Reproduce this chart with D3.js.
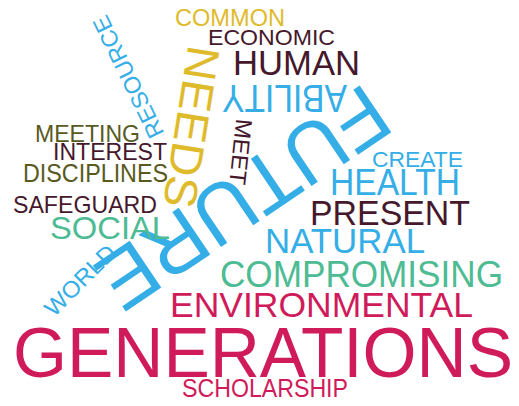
<!DOCTYPE html>
<html>
<head>
<meta charset="utf-8">
<script src="https://cdn.jsdelivr.net/npm/d3@7"></script>
<style>
  body { margin: 0; background: #fff; }
  svg text { font-family: "Liberation Sans", Arial, sans-serif; }
</style>
</head>
<body>
<div id="chart"></div>
<script>
// words and their weight in the cloud
const words = ["GENERATIONS", "FUTURE", "NEEDS", "ABILITY", "ENVIRONMENTAL", "COMPROMISING",
  "HEALTH", "HUMAN", "PRESENT", "NATURAL", "SOCIAL", "SCHOLARSHIP", "DISCIPLINES",
  "MEETING", "SAFEGUARD", "INTEREST", "RESOURCE", "COMMON", "MEET", "WORLD",
  "ECONOMIC", "CREATE"];
const weights = [8.8, 10.25, 5.75, 4.75, 4.4, 4.6, 4.6, 4.4, 4.4, 4.4, 4, 3.25, 3.25,
  3.1, 3.1, 3, 2.9, 2.9, 2.9, 2.9, 2.7, 2.7];
const groups = ["pink", "blue", "gold", "blue", "pink", "green", "blue", "maroon",
  "maroon", "blue", "green", "pink", "olive", "olive", "maroon", "maroon", "blue",
  "gold", "maroon", "blue", "maroon", "blue"];

// placement of each word (centre x, centre y, rotation, drawn length)
const layout = [
  [263, 351.5, 0, 500], [244, 199, 146, 332], [192, 127, 99, 163], [284.5, 99, 180, 125],
  [321.5, 304.5, 0, 303], [361.5, 273.5, 0, 283], [395, 181.5, 0, 130], [296.5, 62.5, 0, 127],
  [390, 212.5, 0, 160], [345, 240.5, 0, 160], [110, 227.5, 0, 120], [265, 387.5, 0, 166],
  [95.5, 172.5, 0, 145], [87.5, 133, 0, 105], [85, 204, 0, 144], [110, 151.5, 0, 114],
  [128, 77, -116, 133], [230, 17.5, 0, 110], [241, 152, 96, 66], [80, 280, -45, 90],
  [271.5, 37.5, 0, 127], [417.5, 159.5, 0, 91]
];

const width = 519, height = 406;

const size = d3.scaleLinear().domain([0, 10]).range([0, 80]);
const color = d3.scaleOrdinal()
  .domain(["pink", "blue", "gold", "maroon", "olive", "green"])
  .range(["#d01b5a", "#35aee7", "#dfbb2c", "#45182c", "#585a1e", "#4dbb93"]);

const data = words.map((w, i) => ({
  text: w, weight: weights[i], group: groups[i],
  x: layout[i][0], y: layout[i][1], rotate: layout[i][2], len: layout[i][3]
}));

const svg = d3.select("#chart").append("svg")
  .attr("width", width)
  .attr("height", height);

svg.append("g")
  .selectAll("text")
  .data(data)
  .join("text")
    .attr("transform", d => `translate(${d.x},${d.y}) rotate(${d.rotate})`)
    .attr("text-anchor", "middle")
    .attr("dy", "0.358em")
    .attr("font-size", d => size(d.weight))
    .attr("textLength", d => d.len)
    .attr("lengthAdjust", "spacingAndGlyphs")
    .attr("fill", d => color(d.group))
    .text(d => d.text);
</script>
</body>
</html>
